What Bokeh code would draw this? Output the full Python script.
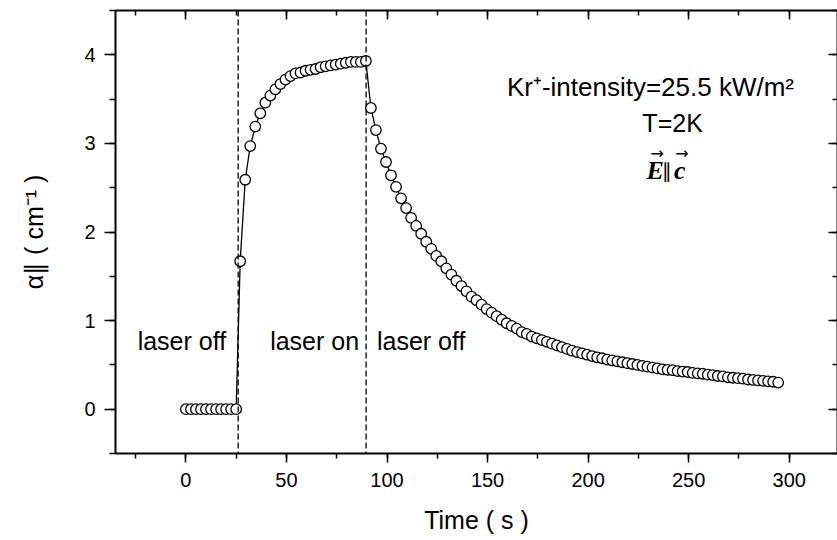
import math
from bokeh.plotting import figure
from bokeh.models import Range1d, LinearAxis, SingleIntervalTicker, Span, Label, CustomJSTickFormatter
from bokeh.embed import file_html
from bokeh.resources import INLINE

# ---------------- data ----------------
t_off = [0.0, 2.5, 5.0, 7.5, 10.0, 12.5, 15.0, 17.5, 20.0, 22.5, 25.0]
a_off = [0.0, 0.0, 0.0, 0.0, 0.0, 0.0, 0.0, 0.0, 0.0, 0.0, 0.0]

t_on = [27.0, 29.5, 32.0, 34.5, 37.0, 39.5, 42.0, 44.5, 47.0, 49.5,
        52.0, 54.5, 57.0, 59.5, 62.0, 64.5, 67.0, 69.5, 72.0, 74.5,
        77.0, 79.5, 82.0, 84.5, 87.0, 89.5]
a_on = [1.67, 2.59, 2.97, 3.19, 3.34, 3.46, 3.54, 3.61, 3.67, 3.72,
        3.76, 3.79, 3.80, 3.82, 3.83, 3.84, 3.86, 3.87, 3.88, 3.89,
        3.90, 3.91, 3.92, 3.92, 3.92, 3.93]

t_decay = [92.0, 94.5, 97.0, 99.5, 102.0, 104.5, 107.0, 109.5, 112.0, 114.5,
           117.0, 119.5, 122.0, 124.5, 127.0, 129.5, 132.0, 134.5, 137.0, 139.5,
           142.0, 144.5, 147.0, 149.5, 152.0, 154.5, 157.0, 159.5, 162.0, 164.5,
           167.0, 169.5, 172.0, 174.5, 177.0, 179.5, 182.0, 184.5, 187.0, 189.5,
           192.0, 194.5, 197.0, 199.5, 202.0, 204.5, 207.0, 209.5, 212.0, 214.5,
           217.0, 219.5, 222.0, 224.5, 227.0, 229.5, 232.0, 234.5, 237.0, 239.5,
           242.0, 244.5, 247.0, 249.5, 252.0, 254.5, 257.0, 259.5, 262.0, 264.5,
           267.0, 269.5, 272.0, 274.5, 277.0, 279.5, 282.0, 284.5, 287.0, 289.5,
           292.0, 294.5]
a_decay = [3.40, 3.15, 2.94, 2.79, 2.64, 2.51, 2.38, 2.27, 2.16, 2.07,
           1.98, 1.89, 1.81, 1.73, 1.67, 1.59, 1.52, 1.45, 1.39, 1.33,
           1.27, 1.23, 1.18, 1.13, 1.09, 1.05, 1.01, 0.97, 0.94, 0.91,
           0.87, 0.85, 0.82, 0.80, 0.78, 0.76, 0.74, 0.72, 0.70, 0.68,
           0.66, 0.645, 0.63, 0.615, 0.60, 0.585, 0.575, 0.56, 0.55, 0.54,
           0.53, 0.52, 0.51, 0.50, 0.49, 0.48, 0.47, 0.46, 0.45, 0.445,
           0.44, 0.43, 0.425, 0.42, 0.41, 0.405, 0.40, 0.39, 0.385, 0.375,
           0.37, 0.36, 0.355, 0.35, 0.345, 0.335, 0.33, 0.325, 0.32, 0.315,
           0.31, 0.30]

laser_switch_times = [26.0, 89.6]

phase_labels = ["laser off", "laser on", "laser off"]
phase_label_x = [-2.0, 64.0, 117.0]
phase_label_y = 0.77

x_label = "Time ( s )"
y_label = "\u03b1\u2225 ( cm\u207b\u00b9 )"
FONT = "Liberation Sans"

t_all = t_off + t_on + t_decay
a_all = a_off + a_on + a_decay

# ---------------- figure ----------------
p = figure(width=837, height=540,
           x_range=Range1d(-35, 324), y_range=Range1d(-0.5, 4.5),
           output_backend="svg", toolbar_location=None,
           min_border_left=115, min_border_right=0,
           min_border_top=10, min_border_bottom=87)
p.outline_line_color = None
p.xgrid.grid_line_color = None
p.ygrid.grid_line_color = None
p.background_fill_color = "white"
p.border_fill_color = "white"

def style(ax, ticker, tin, tout, mtin, mtout):
    ax.ticker = ticker
    ax.axis_line_width = 2
    ax.axis_line_color = "black"
    ax.major_tick_line_width = 1.5
    ax.minor_tick_line_width = 1.5
    ax.major_tick_line_color = "black"
    ax.minor_tick_line_color = "black"
    ax.major_tick_in = tin
    ax.major_tick_out = tout
    ax.minor_tick_in = mtin
    ax.minor_tick_out = mtout
    ax.major_label_text_font = FONT
    ax.major_label_text_font_size = "20px"
    ax.major_label_text_color = "black"

xa = p.xaxis[0]
style(xa, SingleIntervalTicker(interval=50, num_minor_ticks=2), 0, 9, 0, 5)
xa.major_label_standoff = 10
xa.axis_label = x_label
xa.axis_label_text_font = FONT
xa.axis_label_text_font_size = "25px"
xa.axis_label_text_font_style = "normal"
xa.axis_label_text_color = "black"
xa.axis_label_standoff = 16

ya = p.yaxis[0]
style(ya, SingleIntervalTicker(interval=1, num_minor_ticks=2), 0, 11, 0, 6)
ya.major_label_standoff = 9
ya.major_label_orientation = "horizontal"
ya.axis_label = y_label
ya.axis_label_text_font = FONT
ya.axis_label_text_font_size = "25px"
ya.axis_label_text_font_style = "normal"
ya.axis_label_text_color = "black"
ya.axis_label_standoff = 33

top = LinearAxis(formatter=CustomJSTickFormatter(code="return ''"))
style(top, SingleIntervalTicker(interval=50, num_minor_ticks=2), 9, 0, 5, 0)
top.major_label_text_font_size = "0px"
top.major_label_standoff = 0
p.add_layout(top, "above")

right = LinearAxis(formatter=CustomJSTickFormatter(code="return ''"))
style(right, SingleIntervalTicker(interval=1, num_minor_ticks=2), 9, 0, 5, 0)
right.major_label_text_font_size = "0px"
right.major_label_standoff = 0
p.add_layout(right, "right")

# dashed lines at laser switching
for ts in laser_switch_times:
    p.add_layout(Span(location=ts, dimension="height", line_color="black",
                      line_width=1.3, line_dash="6 3"))

# data
p.line(t_all, a_all, line_color="black", line_width=1.3)
p.scatter(t_all, a_all, marker="circle", size=10.5, fill_color="white",
          line_color="black", line_width=1.3)

def lab(x, y, text, size, font=FONT, style="normal"):
    p.add_layout(Label(x=x, y=y, text=text, text_font=font, text_font_size=size,
                       text_font_style=style, text_align="center",
                       text_baseline="middle", text_color="black"))

# phase labels
for txt, xx in zip(phase_labels, phase_label_x):
    lab(xx, phase_label_y, txt, "25px")

# conditions text
lab(231, 3.64, "Kr\u207a-intensity=25.5 kW/m\u00b2", "26px")
lab(242, 3.23, "T=2K", "25px")
lab(233.4, 2.69, "E", "26px", "Liberation Serif", "bold italic")
lab(239.2, 2.69, "\u2225", "20px", "DejaVu Sans")
lab(245.6, 2.69, "c", "26px", "Liberation Serif", "bold italic")
lab(234.4, 2.89, "\u2192", "16px", "DejaVu Sans")
lab(246.6, 2.89, "\u2192", "16px", "DejaVu Sans")

open("out.html", "w").write(file_html(p, INLINE))
